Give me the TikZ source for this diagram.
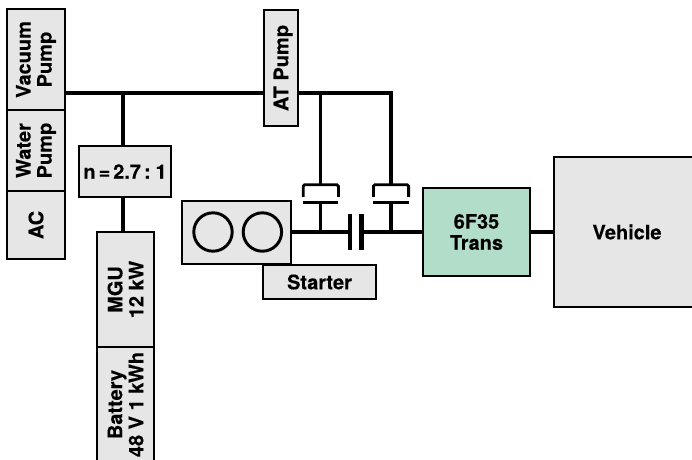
\documentclass[tikz,border=0pt]{standalone}
\usepackage{fontspec}
\setmainfont{TeX Gyre Heros}[BoldFeatures={FakeBold=0.25}]
\usetikzlibrary{positioning,calc}
\definecolor{partcol}{HTML}{E6E6E6}
\definecolor{transcol}{HTML}{B2DDC8}
\newcommand{\partfont}{\fontsize{14.2}{15}\selectfont\bfseries}

\begin{document}
\begin{tikzpicture}[
    part/.style={draw=black,line width=1.9pt,fill=partcol,outer sep=0pt,inner sep=0pt,align=center,font=\partfont},
    vpart/.style={part,rotate=90},
    cyl/.style={draw=black,line width=2.1pt,circle,minimum size=0.96cm,inner sep=0pt,outer sep=0pt},
    link/.style={line width=2.3pt},
    shaft/.style={line width=2.9pt},
    plate/.style={line width=3.2pt}]
  \useasboundingbox (0,0) rectangle (17.3,-11.475);
  \clip (0,0) rectangle (17.3,-11.475);
  % accessories
  \node[vpart,minimum width=2.525cm,minimum height=1.45cm] (vacuum) at (0.9,-1.4875) {Vacuum\\Pump};
  \node[vpart,minimum width=2.025cm,minimum height=1.45cm] (water) at (0.9,-3.7625) {Water\\Pump};
  \node[vpart,minimum width=1.7cm,minimum height=1.45cm] (ac) at (0.9,-5.625) {AC};
  \node[part,minimum width=2.3cm,minimum height=1.275cm] (ratio) at (3.125,-4.2875) {\spaceskip=0.15em n = 2.7 : 1};
  \node[vpart,minimum width=2.875cm,minimum height=1.425cm] (mgu) at (3.1375,-7.2375) {MGU\\12 kW};
  \node[vpart,minimum width=2.875cm,minimum height=1.425cm] (battery) at (3.1375,-10.1125) {Battery\\48 V 1 kWh};
  \node[vpart,text depth=0pt,minimum width=2.9cm,minimum height=0.85cm] (atpump) at (7.025,-1.7) {AT Pump};
  % driveline
  \node[part,minimum width=2.725cm,minimum height=1.575cm] (engine) at (5.9125,-5.8125) {};
  \node[cyl] (cyla) at (5.325,-5.8) {};
  \node[cyl] (cylb) at (6.56,-5.8) {};
  \node[part,minimum width=2.825cm,minimum height=0.85cm] (starter) at (7.9875,-7.05) {Starter};
  \node[part,fill=transcol,minimum width=2.675cm,minimum height=2.2cm] (trans) at (11.9125,-5.8) {6F35\\Trans};
  \node[part,minimum width=3.65cm,minimum height=3.75cm] (vehicle) at (15.675,-5.8) {Vehicle};
  % belt line
  \coordinate (bus) at (3.075,-2.325);
  \draw[link] (vacuum.south |- bus) -- (atpump.north |- bus);
  \draw[link] (bus) -- (bus |- ratio.north);
  \draw[link] (bus |- ratio.south) -- (bus |- mgu.east);
  % clutches
  \coordinate (platea) at (8.75,-5.8);
  \coordinate (plateb) at (9.04,-5.8);
  \foreach \n/\x in {a/8.02,b/9.775} {
    \coordinate (top\n) at (\x,-2.325);
    \coordinate (cup\n) at (\x,-4.62);
    \coordinate (bar\n) at (\x,-5.06);
    \coordinate (hub\n) at (\x,-5.8);
    \draw[link] (top\n) -- (cup\n);
    \draw[link,rounded corners=1pt,line width=2pt] ($(cup\n)+(-0.44,-0.3)$) -- ($(cup\n)+(-0.44,0)$) -- ($(cup\n)+(0.44,0)$) -- ($(cup\n)+(0.44,-0.3)$);
    \draw[link] ($(bar\n)+(-0.44,0)$) -- ($(bar\n)+(0.44,0)$);
    \draw[link] (bar\n) -- (hub\n);
  }
  \draw[link] (atpump.south |- bus) -- (topb) -- (cupb);
  \draw[plate] ($(platea)+(0,0.46)$) -- ($(platea)+(0,-0.46)$);
  \draw[plate] ($(plateb)+(0,0.46)$) -- ($(plateb)+(0,-0.46)$);
  \draw[line width=2.2pt] (engine.east |- platea) -- (platea);
  \draw[shaft] (plateb) -- (trans.west);
  \draw[shaft] (trans.east) -- (vehicle.west |- trans.east);
\end{tikzpicture}
\end{document}
